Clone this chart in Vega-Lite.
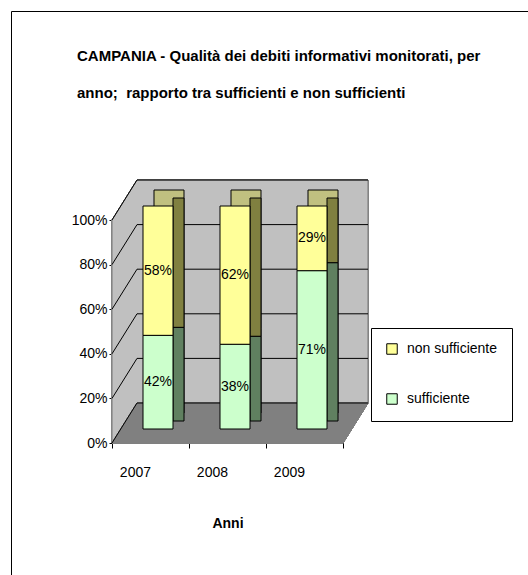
{
  "$schema": "https://vega.github.io/schema/vega-lite/v6.json",
  "width": 520,
  "height": 567,
  "autosize": {"type": "none"},
  "padding": {"left": 11, "top": 11, "right": -3, "bottom": -3},
  "background": "white",
  "config": {
    "view": {"stroke": "black", "strokeWidth": 1, "fill": "white"},
    "font": "Liberation Sans, Arial, sans-serif"
  },
  "title": {
    "text": ["CAMPANIA - Qualità dei debiti informativi monitorati, per", "anno;\u00a0 rapporto tra sufficienti e non sufficienti"],
    "anchor": "start",
    "frame": "group",
    "font": "Liberation Sans, Arial, sans-serif",
    "fontSize": 15,
    "fontWeight": "bold",
    "color": "black",
    "lineHeight": 37,
    "baseline": "alphabetic",
    "offset": 0,
    "dx": 66,
    "dy": 102
  },
  "datasets": {
    "main": [
      {"anno": "2007", "cat": "sufficiente", "v": 0.42},
      {"anno": "2007", "cat": "non sufficiente", "v": 0.58},
      {"anno": "2008", "cat": "sufficiente", "v": 0.38},
      {"anno": "2008", "cat": "non sufficiente", "v": 0.62},
      {"anno": "2009", "cat": "sufficiente", "v": 0.71},
      {"anno": "2009", "cat": "non sufficiente", "v": 0.29}
    ],
    "ticks": [
      {"t": 0}, {"t": 0.2}, {"t": 0.4}, {"t": 0.6}, {"t": 0.8}, {"t": 1}
    ]
  },
  "layer": [
    {
      "data": {"name": "main"},
      "mark": {"type": "point", "shape": "M-0.973,-0.696L-0.783,-1L0.973,-1L0.973,0.696L0.783,1L-0.973,1Z", "size": 69169, "filled": true, "fill": "#C0C0C0", "stroke": "#808080", "strokeWidth": 1, "opacity": 1, "xOffset": 12.5, "yOffset": -131.5},
      "encoding": {
        "x": {"datum": "2008", "type": "nominal"},
        "y": {"datum": 0, "type": "quantitative"}
      }
    },
    {
      "data": {"name": "main"},
      "mark": {"type": "point", "shape": "M-1,0.15625L0.8047,0.15625L1,-0.15625L-0.8047,-0.15625Z", "size": 65536, "filled": true, "fill": "#808080", "stroke": "#808080", "strokeWidth": 1, "opacity": 1, "xOffset": 12.5, "yOffset": -20},
      "encoding": {
        "x": {"datum": "2008", "type": "nominal"},
        "y": {"datum": 0, "type": "quantitative"}
      }
    },
    {
      "data": {"name": "ticks"},
      "mark": {"type": "rule", "color": "black", "strokeWidth": 1, "xOffset": 25, "x2Offset": 25, "yOffset": -40},
      "encoding": {
        "x": {"datum": "2007", "type": "nominal", "bandPosition": 0},
        "x2": {"datum": "2009", "bandPosition": 1},
        "y": {"field": "t", "type": "quantitative", "title": null}
      }
    },
    {
      "data": {"name": "ticks"},
      "mark": {"type": "rule", "color": "black", "strokeWidth": 1, "x2Offset": 25, "y2Offset": -40},
      "encoding": {
        "x": {"datum": "2007", "type": "nominal", "bandPosition": 0},
        "x2": {"datum": "2007", "bandPosition": 0},
        "y": {"field": "t", "type": "quantitative", "title": null},
        "y2": {"field": "t"}
      }
    },
    {
      "data": {"name": "main"},
      "transform": [
        {"stack": "v", "groupby": ["anno"], "sort": [{"field": "cat", "order": "descending"}], "as": ["y0", "y1"]},
        {"calculate": "(datum.y0 + datum.y1) / 2", "as": "mid"}
      ],
      "layer": [
        {
          "mark": {"type": "bar", "width": 30, "xOffset": 18.5, "yOffset": -30, "y2Offset": -30, "stroke": "black", "strokeWidth": 1},
          "encoding": {
            "x": {"field": "anno", "type": "nominal"},
            "y": {"field": "y1", "type": "quantitative", "title": null},
            "y2": {"field": "y0"},
            "fill": {"condition": {"test": "datum.cat === 'sufficiente'", "value": "#A0C0A0"}, "value": "#C0C080"}
          }
        },
        {
          "mark": {"type": "bar", "width": 11, "xOffset": 28, "yOffset": -22, "y2Offset": -22, "stroke": "black", "strokeWidth": 1},
          "encoding": {
            "x": {"field": "anno", "type": "nominal"},
            "y": {"field": "y1", "type": "quantitative", "title": null},
            "y2": {"field": "y0"},
            "fill": {"condition": {"test": "datum.cat === 'sufficiente'", "value": "#608060"}, "value": "#808040"}
          }
        },
        {
          "mark": {"type": "bar", "width": 30, "xOffset": 7.5, "yOffset": -14, "y2Offset": -14, "stroke": "black", "strokeWidth": 1},
          "encoding": {
            "x": {
              "field": "anno", "type": "nominal",
              "scale": {"type": "band", "domain": ["2007", "2008", "2009"], "range": [101, 332], "paddingInner": 0, "paddingOuter": 0},
              "axis": {
                "title": "Anni", "titleFontSize": 14, "titleFontWeight": "bold", "titleColor": "black",
                "titleY": 80, "titleBaseline": "middle",
                "tickBand": "extent", "tickSize": 5, "tickColor": "black", "domainColor": "black",
                "labelFontSize": 14, "labelColor": "black", "labelPadding": 24, "labelAngle": 0,
                "offset": -135, "grid": false
              }
            },
            "y": {
              "field": "y1", "type": "quantitative", "title": null,
              "scale": {"domain": [0, 1], "range": [432, 209], "nice": false, "zero": false},
              "axis": {
                "offset": -101, "values": [0, 0.2, 0.4, 0.6, 0.8, 1], "format": ".0%",
                "tickSize": 3, "labelPadding": 2, "labelFontSize": 14, "labelColor": "black",
                "tickColor": "black", "domainColor": "black", "grid": false
              }
            },
            "y2": {"field": "y0"},
            "color": {
              "field": "cat", "type": "nominal",
              "scale": {"domain": ["non sufficiente", "sufficiente"], "range": ["#FFFF99", "#CCFFCC"]},
              "legend": {
                "title": null, "orient": "none", "legendX": 360, "legendY": 317,
                "strokeColor": "black", "fillColor": "white", "padding": 14,
                "symbolType": "square", "symbolSize": 110, "symbolStrokeColor": "black", "symbolStrokeWidth": 1,
                "labelFontSize": 14, "labelColor": "black", "labelOffset": 8, "rowPadding": 34, "labelLimit": 300
              }
            }
          }
        },
        {
          "mark": {"type": "text", "xOffset": 7.5, "yOffset": -14, "fontSize": 14, "color": "black", "baseline": "middle", "align": "center"},
          "encoding": {
            "x": {"field": "anno", "type": "nominal"},
            "y": {"field": "mid", "type": "quantitative", "title": null},
            "text": {"field": "v", "type": "quantitative", "format": ".0%"}
          }
        }
      ]
    }
  ]
}
